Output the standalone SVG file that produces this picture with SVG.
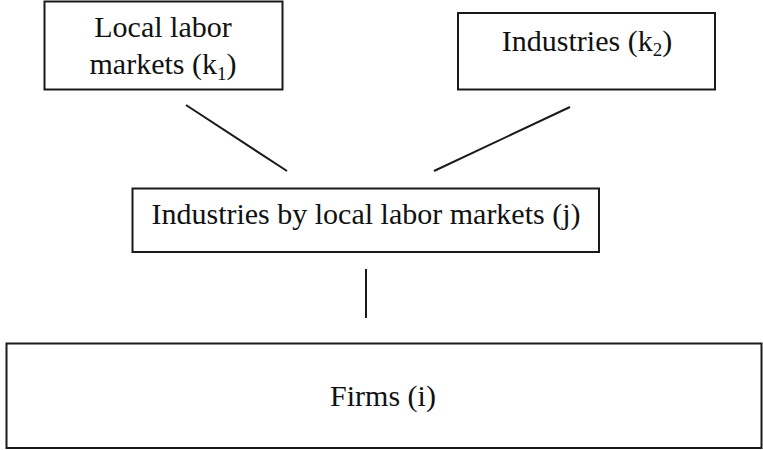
<svg xmlns="http://www.w3.org/2000/svg" width="763" height="450" viewBox="0 0 763 450">
  <style>
    .box { fill: #ffffff; stroke: #1a1a1a; stroke-width: 2; }
    .lbl { font-family: "Liberation Serif", "Times New Roman", serif; font-size: 30px; fill: #111111; text-anchor: middle; }
    .sub { font-size: 19px; }
    .link { stroke: #1a1a1a; stroke-width: 2; fill: none; }
  </style>
  <rect width="763" height="450" fill="#ffffff"/>

  <g id="connectors">
    <line class="link" x1="186" y1="105" x2="287" y2="171"/>
    <line class="link" x1="570" y1="107" x2="434" y2="171"/>
    <line class="link" x1="366" y1="269" x2="366" y2="318"/>
  </g>

  <g id="node-local-labor-markets">
    <rect class="box" x="44.5" y="1.5" width="238" height="88"/>
    <text class="lbl" x="163" y="37">Local labor</text>
    <text class="lbl" x="163" y="74">markets (k<tspan class="sub" dy="6">1</tspan><tspan dy="-6">)</tspan></text>
  </g>

  <g id="node-industries">
    <rect class="box" x="458" y="13" width="257" height="76.5"/>
    <text class="lbl" x="587" y="50.5">Industries (k<tspan class="sub" dy="5">2</tspan><tspan dy="-5">)</tspan></text>
  </g>

  <g id="node-industries-by-llm">
    <rect class="box" x="132.5" y="188.5" width="466.5" height="63.5"/>
    <text class="lbl" x="366" y="224">Industries by local labor markets (j)</text>
  </g>

  <g id="node-firms">
    <rect class="box" x="6.5" y="343.5" width="755" height="104.5"/>
    <text class="lbl" x="383" y="406">Firms (i)</text>
  </g>
</svg>
